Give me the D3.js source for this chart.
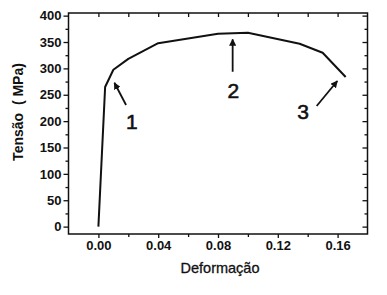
<!DOCTYPE html>
<html><head><meta charset="utf-8">
<script src="https://cdn.jsdelivr.net/npm/d3@7"></script>
<style>html,body{margin:0;padding:0;background:#fff;}svg{display:block;}</style>
</head><body>
<script>
// data (strain, stress MPa)
const strain = [0.000, 0.0045, 0.010, 0.020, 0.040, 0.080, 0.100, 0.1346, 0.150, 0.1654];
const stress = [0, 264.7, 297.5, 318, 347.7, 365.5, 367.4, 346.6, 329.6, 283.6];
const xTicks = [0.00, 0.04, 0.08, 0.12, 0.16];
const xMinorTicks = [-0.02, 0.02, 0.06, 0.10, 0.14, 0.18];
const yTicks = [0, 50, 100, 150, 200, 250, 300, 350, 400];
const yMinorTicks = [25, 75, 125, 175, 225, 275, 325, 375];
// annotations: label, arrow head (x,y), arrow tail (x,y), label position (x,y)
const annLabels = ["1", "2", "3"];
const annHead = [[0.0107, 272.7], [0.0898, 355], [0.1598, 276]];
const annTail = [[0.0185, 230.5], [0.0898, 293.6], [0.146, 228.6]];
const annText = [[0.0223, 200], [0.0902, 259], [0.137, 218]];

const W = 387, H = 295;
const svg = d3.select("body").append("svg").attr("width", W).attr("height", H);
const x = d3.scaleLinear().domain([-0.02, 0.18]).range([68.5, 367.5]);
const y = d3.scaleLinear().domain([-14, 405]).range([234, 13]);
const col = "#111";
const font = "'Liberation Sans', Arial, sans-serif";

svg.append("defs").append("marker").attr("id", "ah")
  .attr("viewBox", "0 0 10 10").attr("refX", 9).attr("refY", 5)
  .attr("markerWidth", 4).attr("markerHeight", 4).attr("orient", "auto")
  .append("path").attr("d", "M0,0 L10,5 L0,10 Z").attr("fill", col);

// frame
svg.append("rect").attr("x", x(-0.02)).attr("y", y(405)).attr("width", x(0.18) - x(-0.02)).attr("height", y(-14) - y(405))
  .attr("fill", "none").attr("stroke", col).attr("stroke-width", 1.5);

function styleAxis(g){ g.select(".domain").remove(); g.selectAll("line").attr("stroke", col).attr("stroke-width", 1.3); }

// left axis
svg.append("g").attr("transform", `translate(${x(-0.02)},0)`)
  .call(d3.axisLeft(y).tickValues(yTicks).tickSize(5).tickPadding(2).tickFormat(d3.format("d")))
  .call(styleAxis)
  .selectAll("text").attr("font-family", font).attr("font-weight", "bold").attr("font-size", 13).attr("fill", col);
svg.append("g").attr("transform", `translate(${x(-0.02)},0)`)
  .call(d3.axisLeft(y).tickValues(yMinorTicks).tickSize(3).tickFormat(""))
  .call(styleAxis);
// right axis (inward)
svg.append("g").attr("transform", `translate(${x(0.18)},0)`)
  .call(d3.axisLeft(y).tickValues(yTicks).tickSize(5).tickFormat(""))
  .call(styleAxis);
svg.append("g").attr("transform", `translate(${x(0.18)},0)`)
  .call(d3.axisLeft(y).tickValues(yMinorTicks).tickSize(3).tickFormat(""))
  .call(styleAxis);
// bottom axis
svg.append("g").attr("transform", `translate(0,${y(-14)})`)
  .call(d3.axisBottom(x).tickValues(xTicks).tickSize(4).tickPadding(3).tickFormat(d3.format(".2f")))
  .call(styleAxis)
  .selectAll("text").attr("font-family", font).attr("font-weight", "bold").attr("font-size", 13).attr("fill", col);
svg.append("g").attr("transform", `translate(0,${y(-14)})`)
  .call(d3.axisBottom(x).tickValues(xMinorTicks.filter(v => v > -0.02 && v < 0.18)).tickSize(3).tickFormat(""))
  .call(styleAxis);
// top axis (inward)
svg.append("g").attr("transform", `translate(0,${y(405)})`)
  .call(d3.axisBottom(x).tickValues(xTicks.concat(xMinorTicks.filter(v => v > -0.02 && v < 0.18))).tickSize(4).tickFormat(""))
  .call(styleAxis);

// curve
const pts = strain.map((s, i) => [s, stress[i]]);
svg.append("path").datum(pts)
  .attr("d", d3.line().x(d => x(d[0])).y(d => y(d[1])))
  .attr("fill", "none").attr("stroke", col).attr("stroke-width", 2).attr("stroke-linejoin", "round");

// annotations
annLabels.forEach((lab, i) => {
  svg.append("line")
    .attr("x1", x(annTail[i][0])).attr("y1", y(annTail[i][1]))
    .attr("x2", x(annHead[i][0])).attr("y2", y(annHead[i][1]))
    .attr("stroke", col).attr("stroke-width", 1.8).attr("marker-end", "url(#ah)");
  svg.append("text").attr("x", x(annText[i][0])).attr("y", y(annText[i][1]))
    .attr("text-anchor", "middle").attr("dominant-baseline", "central")
    .attr("font-family", font).attr("font-size", 21).attr("fill", col)
    .attr("stroke", col).attr("stroke-width", 0.6).text(lab);
});

// axis titles
svg.append("text").attr("x", (x(-0.02) + x(0.18)) / 2 + 2).attr("y", 268)
  .attr("text-anchor", "middle").attr("dominant-baseline", "central")
  .attr("font-family", font).attr("font-size", 14.5).attr("fill", col)
  .attr("stroke", col).attr("stroke-width", 0.3).text("Deformação");
svg.append("text").attr("transform", "translate(18,112) rotate(-90)")
  .attr("text-anchor", "middle").attr("dominant-baseline", "central")
  .attr("font-family", font).attr("font-weight", "bold").attr("font-size", 14).attr("fill", col)
  .style("white-space", "pre").text("Tensão  ( MPa)");
</script>
</body></html>
